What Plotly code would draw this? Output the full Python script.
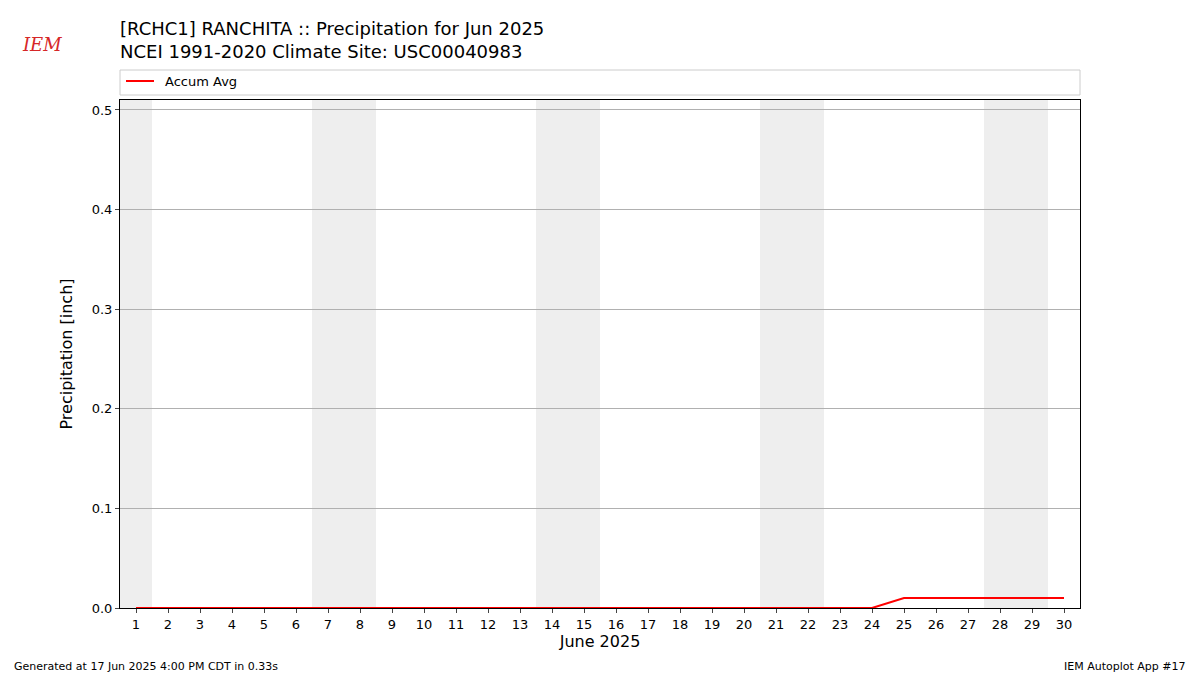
import plotly.graph_objects as go

days = list(range(1, 31))
accum_avg = [0.0]*24 + [0.01]*6
weekend_days = [1, 7, 8, 14, 15, 21, 22, 28, 29]
tick_labels = [str(d) for d in days]

def px(x):
    return (x - 120) / 960
def py(y):
    return (608 - y) / 508

fig = go.Figure()
shapes = []
for d in weekend_days:
    shapes.append(dict(type="rect", xref="x", yref="paper", x0=d-0.5, x1=d+0.5, y0=0, y1=1,
                       fillcolor="#eeeeee", line=dict(width=0), layer="below"))
shapes.append(dict(type="rect", xref="paper", yref="paper", x0=0, x1=1, y0=py(95), y1=py(70),
                   line=dict(color="#cccccc", width=1), fillcolor="white"))
shapes.append(dict(type="line", xref="paper", yref="paper", x0=px(126), x1=px(154), y0=py(81), y1=py(81),
                   line=dict(color="red", width=2)))
fig.add_trace(go.Scatter(x=days, y=accum_avg, mode="lines", line=dict(color="red", width=2),
                         name="Accum Avg", showlegend=False))
annotations = [
    dict(xref="paper", yref="paper", x=px(118), y=py(40), align="left",
         text="[RCHC1] RANCHITA :: Precipitation for Jun 2025<br>NCEI 1991-2020 Climate Site: USC00040983",
         showarrow=False, xanchor="left", yanchor="middle", font=dict(size=18)),
    dict(xref="paper", yref="paper", x=px(163), y=py(81), text="Accum Avg",
         showarrow=False, xanchor="left", yanchor="middle", font=dict(size=13)),
    dict(xref="paper", yref="paper", x=px(12), y=py(666), text="Generated at 17 Jun 2025 4:00 PM CDT in 0.33s",
         showarrow=False, xanchor="left", yanchor="middle", font=dict(size=11)),
    dict(xref="paper", yref="paper", x=px(1188), y=py(666), text="IEM Autoplot App #17",
         showarrow=False, xanchor="right", yanchor="middle", font=dict(size=11)),
    dict(xref="paper", yref="paper", x=px(20), y=py(45), text="<i>IEM</i>",
         showarrow=False, xanchor="left", yanchor="middle", font=dict(size=18, color="#d62728", family="DejaVu Serif")),
]
fig.update_layout(
    width=1200, height=675, paper_bgcolor="white", plot_bgcolor="white",
    margin=dict(l=112, r=128, t=92, b=75), autosize=False,
    font=dict(family="DejaVu Sans", color="black"),
    shapes=shapes, annotations=annotations,
    xaxis=dict(range=[0.5, 30.5], tickvals=days, ticktext=tick_labels, showgrid=False,
               ticks="outside", ticklen=4, showline=True, linecolor="black", mirror=True,
               title=dict(text="June 2025", font=dict(size=16), standoff=4), tickfont=dict(size=13)),
    yaxis=dict(range=[0, 0.51], tickvals=[0, 0.1, 0.2, 0.3, 0.4, 0.5], tickformat=".1f",
               showgrid=True, gridcolor="#b0b0b0", ticks="outside", ticklen=4, zeroline=False,
               showline=True, linecolor="black", mirror=True,
               title=dict(text="Precipitation [inch]", font=dict(size=16)), tickfont=dict(size=13)),
)
fig.write_html("out.html")
